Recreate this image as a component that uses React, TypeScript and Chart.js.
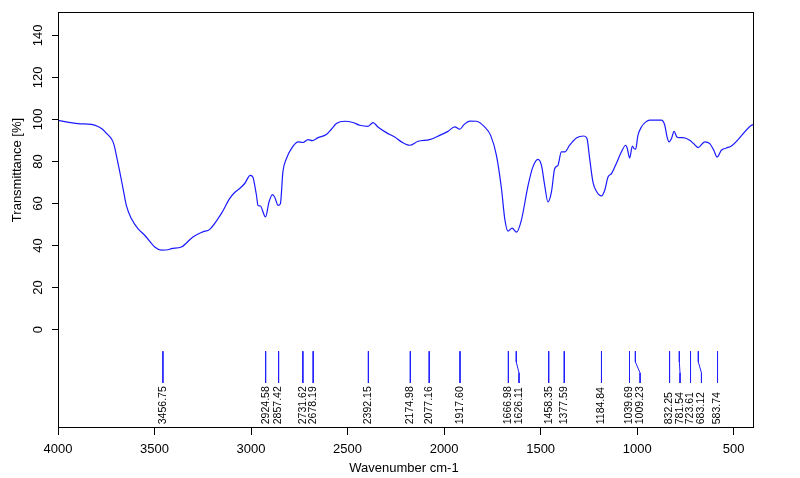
import React, { useEffect, useRef } from "react";
import { Chart, registerables } from "chart.js";

Chart.register(...registerables);

// Spectrum (wavenumber cm-1, transmittance %)
const wavenumbers = [
  4000, 3896, 3827, 3793, 3770, 3749, 3730, 3715, 3706, 3698, 3680, 3663, 3646, 3620, 3586, 3551, 3499, 3464, 3430,
  3413, 3361, 3301, 3250, 3214, 3154, 3111, 3085, 3059, 3033, 3004, 2990, 2986, 2972, 2964, 2952,
  2925, 2907, 2889, 2878, 2860, 2848, 2835, 2817, 2791, 2757, 2731, 2705, 2683, 2653, 2610, 2584,
  2558, 2515, 2472, 2437, 2394, 2368, 2343, 2299, 2256, 2221, 2178, 2135, 2075, 2032, 1980, 1945,
  1919, 1897, 1868, 1833, 1790, 1759, 1729, 1703, 1686, 1669, 1648, 1625, 1600, 1565, 1540, 1514,
  1496, 1479, 1462, 1444, 1427, 1410, 1393, 1375, 1350, 1315, 1276, 1260, 1246, 1229, 1211, 1185,
  1168, 1151, 1133, 1108, 1082, 1059, 1051, 1039, 1025, 1016, 1008, 996, 978, 955, 935, 875,
  857, 845, 835, 822, 809, 794, 781, 763, 728, 708, 684, 650, 624, 603, 586, 564,
  538, 512, 408, 400,
];
const transmittance = [
  99.5, 98.0, 97.6, 96.6, 95.3, 93.4, 91.6, 89.3, 86.6, 83.0, 75.0, 67.1, 59.1, 52.8, 48.0, 44.9, 39.3, 37.8, 38.0,
  38.5, 39.3, 44.1, 46.5, 47.7, 55.2, 62.3, 65.2, 67.1, 69.5, 73.4, 72.5, 71.0, 63.9, 59.1, 58.8,
  53.6, 60.7, 64.2, 63.1, 59.1, 59.9, 75.0, 81.3, 86.1, 89.3, 89.0, 90.4, 89.9, 91.3, 92.8, 95.3,
  98.0, 99.1, 98.5, 97.2, 96.7, 98.5, 96.4, 93.7, 91.6, 89.3, 87.7, 89.6, 90.4, 92.0, 94.3, 96.4,
  95.3, 97.5, 99.2, 99.1, 96.4, 92.4, 82.9, 67.1, 52.8, 46.8, 48.3, 46.4, 52.0, 68.6, 77.4, 81.0,
  78.2, 68.6, 60.7, 65.5, 76.6, 78.2, 84.5, 84.5, 87.7, 91.2, 92.1, 90.9, 81.3, 70.2, 65.8, 63.6,
  66.3, 72.6, 74.2, 79.0, 84.5, 87.7, 86.1, 81.6, 87.3, 86.1, 85.8, 92.4, 96.4, 98.8, 99.6, 99.6,
  97.2, 91.6, 89.3, 90.9, 94.3, 91.6, 91.3, 91.3, 90.1, 88.5, 86.6, 89.3, 88.5, 85.3, 82.1, 85.3,
  86.4, 87.3, 97.2, 97.5,
];

// Peak picks
const peakPositions = [
  3456.75, 2924.58, 2857.42, 2731.62, 2678.19, 2392.15, 2174.98, 2077.16, 1917.6, 1666.98, 1626.11,
  1458.35, 1377.59, 1184.84, 1039.69, 1009.23, 832.25, 781.54, 723.61, 683.12, 583.74,
];
const peakLabels = [
  "3456.75", "2924.58", "2857.42", "2731.62", "2678.19", "2392.15", "2174.98", "2077.16", "1917.60",
  "1666.98", "1626.11", "1458.35", "1377.59", "1184.84", "1039.69", "1009.23", "832.25", "781.54",
  "723.61", "683.12", "583.74",
];
const peakLabelPositions = [
  3456.75, 2924.58, 2857.42, 2731.62, 2678.19, 2392.15, 2174.98, 2077.16, 1917.6, 1666.98, 1612,
  1458.35, 1377.59, 1184.84, 1039.69, 985, 832.25, 778, 723.61, 667, 583.74,
];

const xTicks = [4000, 3500, 3000, 2500, 2000, 1500, 1000, 500];
const yTicks = [0, 20, 40, 60, 80, 100, 120, 140];

const X_MIN = 400;
const X_MAX = 4000;
const Y_MIN = -46.8;
const Y_MAX = 150.6;
const MARK_TOP = -10.3;
const MARK_BEND1 = -15.4;
const MARK_BEND2 = -20.6;
const MARK_BOTTOM = -25.4;
const LABEL_BASE = -45;

const FONT = "'Liberation Sans', Arial, sans-serif";

const overlayPlugin = {
  id: "irOverlay",
  afterDraw(chart: any) {
    const { ctx } = chart;
    const xs = chart.scales.x;
    const ys = chart.scales.y;
    ctx.save();
    // frame
    ctx.strokeStyle = "#000";
    ctx.lineWidth = 1;
    ctx.strokeRect(58.5, 12.5, 695, 415);

    ctx.fillStyle = "#000";
    // y tick labels (rotated)
    ctx.font = `13px ${FONT}`;
    ctx.textAlign = "center";
    ctx.textBaseline = "alphabetic";
    yTicks.forEach((v) => {
      const py = ys.getPixelForValue(v);
      ctx.save();
      ctx.translate(41.5, py);
      ctx.rotate(-Math.PI / 2);
      ctx.fillText(String(v), 0, 0);
      ctx.restore();
    });

    // y title
    ctx.font = `13px ${FONT}`;
    ctx.save();
    ctx.translate(20.5, 170);
    ctx.rotate(-Math.PI / 2);
    ctx.fillText("Transmittance [%]", 0, 0);
    ctx.restore();

    // x title
    ctx.fillText("Wavenumber cm-1", 404, 471.5);

    // peak labels
    ctx.font = `10.5px ${FONT}`;
    ctx.textAlign = "left";
    ctx.textBaseline = "middle";
    const baseY = ys.getPixelForValue(LABEL_BASE);
    peakLabels.forEach((lab, i) => {
      const px = xs.getPixelForValue(peakLabelPositions[i]);
      ctx.save();
      ctx.translate(px, baseY);
      ctx.rotate(-Math.PI / 2);
      ctx.fillText(lab, 0, 0);
      ctx.restore();
    });
    ctx.restore();
  },
};

export default function App() {
  const ref = useRef<HTMLCanvasElement | null>(null);

  useEffect(() => {
    document.body.style.margin = "0";
    const canvas = ref.current;
    if (!canvas) return;

    const spectrum = wavenumbers.map((w, i) => ({ x: w, y: transmittance[i] }));
    const markerSets = peakPositions.map((p, i) => ({
      data: [
        { x: p, y: MARK_TOP },
        { x: p, y: MARK_BEND1 },
        { x: peakLabelPositions[i], y: MARK_BEND2 },
        { x: peakLabelPositions[i], y: MARK_BOTTOM },
      ],
      borderColor: "#2020ff",
      borderWidth: 1,
      pointRadius: 0,
      tension: 0,
      fill: false,
    }));

    const chart = new Chart(canvas, {
      type: "line",
      data: {
        datasets: [
          {
            data: spectrum,
            borderColor: "#1a1aff",
            borderWidth: 1.2,
            pointRadius: 0,
            cubicInterpolationMode: "monotone",
            fill: false,
          },
          ...markerSets,
        ],
      },
      options: {
        animation: false,
        responsive: false,
        devicePixelRatio: 1,
        layout: { padding: { left: 0, top: 13, right: 47, bottom: 0 } },
        plugins: { legend: { display: false }, tooltip: { enabled: false } },
        elements: { point: { radius: 0 } },
        scales: {
          x: {
            type: "linear",
            reverse: true,
            min: X_MIN,
            max: X_MAX,
            afterBuildTicks: (s: any) => {
              s.ticks = xTicks.map((v) => ({ value: v }));
            },
            afterFit: (s: any) => {
              s.height = 50;
            },
            grid: { drawOnChartArea: false, drawTicks: true, tickLength: 7, color: "#000" },
            border: { display: false },
            ticks: {
              font: { family: FONT, size: 13 },
              color: "#000",
              padding: 7,
              maxRotation: 0,
              minRotation: 0,
              autoSkip: false,
              callback: (v: any) => String(v),
            },
          },
          y: {
            type: "linear",
            min: Y_MIN,
            max: Y_MAX,
            afterBuildTicks: (s: any) => {
              s.ticks = yTicks.map((v) => ({ value: v }));
            },
            afterFit: (s: any) => {
              s.width = 58;
            },
            grid: { drawOnChartArea: false, drawTicks: true, tickLength: 6, color: "#000" },
            border: { display: false },
            ticks: { display: false },
          },
        },
      },
      plugins: [overlayPlugin],
    } as any);

    return () => chart.destroy();
  }, []);

  return (
    <div style={{ width: 800, height: 478, background: "#fff" }}>
      <canvas ref={ref} width={800} height={478} style={{ display: "block" }} />
    </div>
  );
}
